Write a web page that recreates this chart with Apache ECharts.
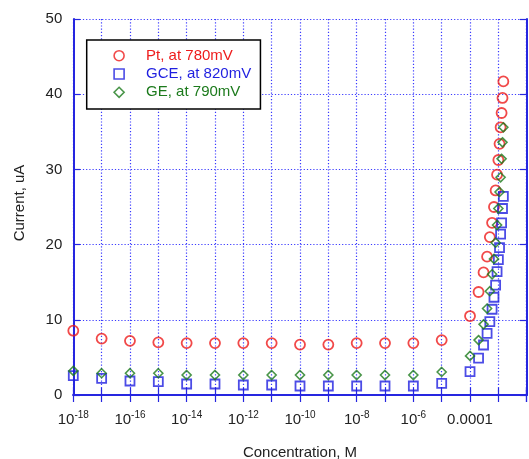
<!DOCTYPE html>
<html>
<head>
<meta charset="utf-8">
<script src="https://cdn.jsdelivr.net/npm/echarts@6/dist/echarts.min.js"></script>
<style>html,body{margin:0;padding:0;background:#fff}#c{width:529px;height:459px}</style>
</head>
<body>
<div id="c"></div>
<script>
// Concentrations (M)
var concentrations = [1e-18,1e-17,1e-16,1e-15,1e-14,1e-13,1e-12,1e-11,1e-10,1e-9,1e-8,1e-7,1e-6,1e-5,
  1e-4,2e-4,3e-4,4e-4,5e-4,6e-4,7e-4,8e-4,9e-4,1e-3,1.1e-3,1.2e-3,1.3e-3,1.4e-3,1.5e-3];
// Current (uA)
var ptValues  = [8.55,7.5,7.2,7.0,6.9,6.9,6.9,6.9,6.7,6.7,6.9,6.9,6.9,7.3,
  10.5,13.7,16.3,18.4,21.0,22.9,25.0,27.2,29.3,31.25,33.4,35.6,37.5,39.5,41.7];
var gceValues = [2.57,2.2,1.86,1.77,1.46,1.46,1.33,1.33,1.2,1.2,1.2,1.2,1.2,1.55,
  3.1,4.9,6.65,8.2,9.75,11.4,13.0,14.6,16.4,18.0,19.6,21.4,22.9,24.8,26.4];
var geValues  = [3.2,2.9,2.9,2.9,2.66,2.66,2.66,2.66,2.66,2.66,2.66,2.66,2.66,3.06,
  5.2,7.3,9.4,11.5,13.8,16.05,18.1,20.25,22.6,24.8,27.0,28.95,31.4,33.6,35.6];
var seriesNames = ['Pt, at 780mV','GCE, at 820mV','GE, at 790mV'];
var yTicks = [0,10,20,30,40,50];

var RED = '#ee1c1c', BLUE = '#1f1fe0', GREEN = '#1c7a1c', AXIS = '#2626e0';
var FONT = '"Liberation Sans", Arial, sans-serif';

function pairs(vals){ return concentrations.map(function(c,i){ return [c, vals[i]]; }); }

var chart = echarts.init(document.getElementById('c'), null, {renderer:'canvas'});
var grid = {left:73.3, right:2.3, top:19, bottom:64, containLabel:false, outerBoundsMode:'none'};
var gridLine = {show:true, lineStyle:{color:'#3a3aff', type:[1.2,2], width:1.2}};
var axisLine = {show:true, lineStyle:{color:AXIS, width:2}};
var tick = {show:true, inside:true, length:7, lineStyle:{color:AXIS, width:1.2}};

chart.setOption({
  animation:false,
  backgroundColor:'#fff',
  grid: grid,
  legend:{
    left:86.7, top:40, orient:'vertical',
    itemWidth:10, itemHeight:10, itemGap:2.3,
    padding:[7.7,9.3,8.7,26.6],
    borderColor:'#000', borderWidth:1.5, backgroundColor:'#fff',
    textStyle:{fontSize:15, lineHeight:16, fontFamily:FONT, padding:[0,0,0,17]},
    data:[
      {name:seriesNames[0], icon:'circle', itemStyle:{color:'transparent', borderColor:RED, borderWidth:1.6}, textStyle:{color:RED}},
      {name:seriesNames[1], icon:'rect', itemStyle:{color:'transparent', borderColor:BLUE, borderWidth:1.6}, textStyle:{color:BLUE}},
      {name:seriesNames[2], icon:'diamond', itemStyle:{color:'transparent', borderColor:GREEN, borderWidth:1.6}, textStyle:{color:GREEN}}
    ]
  },
  xAxis:[{
    type:'log', logBase:10, min:1e-18, max:1e-2, interval:1,
    position:'bottom',
    name:'Concentration, M', nameLocation:'middle', nameGap:50,
    nameTextStyle:{fontSize:15, color:'#222', fontFamily:FONT},
    axisLine:axisLine, axisTick:tick, splitLine:gridLine, minorTick:{show:false},
    axisLabel:{
      margin:15, color:'#222', fontFamily:FONT, showMinLabel:true, showMaxLabel:true,
      formatter:function(v){
        var e = Math.round(Math.log10(v));
        if (e % 2 !== 0 || e > -4) return '';
        if (e === -4) return '{m|0.0001}';
        return '{m|10}{s|' + e + '}';
      },
      rich:{
        m:{fontSize:15, lineHeight:15, padding:[4,0,0,0], color:'#222', fontFamily:FONT},
        s:{fontSize:10, lineHeight:10, verticalAlign:'top', color:'#222', fontFamily:FONT}
      }
    }
  },{
    type:'log', logBase:10, min:1e-18, max:1e-2, interval:1,
    position:'top',
    axisLine:axisLine, axisTick:tick, splitLine:{show:false}, axisLabel:{show:false}
  }],
  yAxis:[{
    type:'value', min:0, max:50, interval:10, position:'left',
    name:'Current, uA', nameLocation:'middle', nameGap:46,
    nameTextStyle:{fontSize:15, color:'#222', fontFamily:FONT, padding:[0,0,0,8]},
    axisLine:axisLine, axisTick:tick, splitLine:gridLine,
    axisLabel:{margin:11, fontSize:15, color:'#222', fontFamily:FONT}
  },{
    type:'value', min:0, max:50, interval:10, position:'right',
    axisLine:axisLine, axisTick:tick, splitLine:{show:false}, axisLabel:{show:false}
  }],
  series:[
    {name:seriesNames[0], type:'scatter', clip:false, symbol:'circle', symbolSize:10,
     itemStyle:{color:'transparent', borderColor:RED, borderWidth:1.8}, data:pairs(ptValues)},
    {name:seriesNames[1], type:'scatter', clip:false, symbol:'rect', symbolSize:9,
     itemStyle:{color:'transparent', borderColor:BLUE, borderWidth:1.8}, data:pairs(gceValues)},
    {name:seriesNames[2], type:'scatter', clip:false, symbol:'diamond', symbolSize:9,
     itemStyle:{color:'transparent', borderColor:GREEN, borderWidth:1.6}, data:pairs(geValues)}
  ]
});
</script>
</body>
</html>
